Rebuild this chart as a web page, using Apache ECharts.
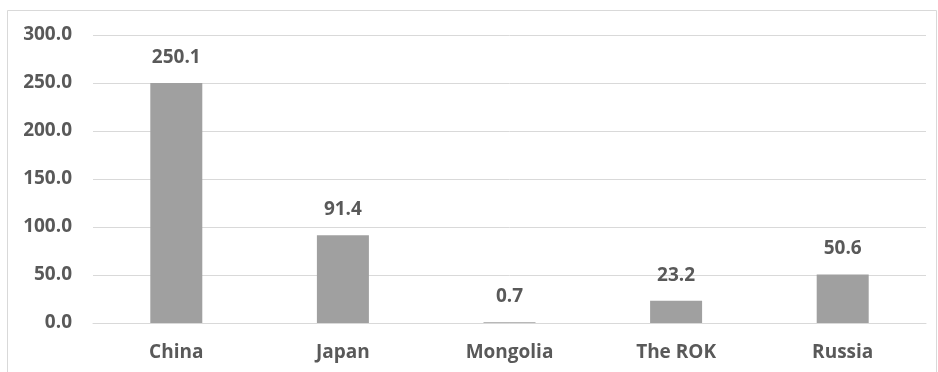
<!DOCTYPE html>
<html>
<head>
<meta charset="utf-8">
<script src="https://cdn.jsdelivr.net/npm/echarts@6/dist/echarts.min.js"></script>
<style>
  html, body { margin: 0; padding: 0; background: #ffffff; }
  #chart { width: 938px; height: 372px; }
</style>
</head>
<body>
<div id="chart"></div>
<script>
// Countries on the category axis
const categories = ['China', 'Japan', 'Mongolia', 'The ROK', 'Russia'];
// Bar values
const values = [250.1, 91.4, 0.7, 23.2, 50.6];
// Value axis range
const yMin = 0;
const yMax = 300;
const yStep = 50;

const textColor = '#595959';
const fontFamily = '"Liberation Sans Narrow", "Open Sans", "Noto Sans", sans-serif';
const fontSize = 19;
const fontWeight = 'bold';

const chart = echarts.init(document.getElementById('chart'), null, { renderer: 'canvas' });

chart.setOption({
  animation: false,
  backgroundColor: '#ffffff',
  graphic: [{
    type: 'rect',
    shape: { x: 7.5, y: 10.5, width: 929, height: 400 },
    style: { fill: 'none', stroke: '#d9d9d9', lineWidth: 1 },
    silent: true
  }],
  grid: { left: 93, right: 12, top: 35, bottom: 49, containLabel: false },
  xAxis: {
    type: 'category',
    data: categories,
    axisLine: { show: true, lineStyle: { color: '#d9d9d9', width: 1 } },
    axisTick: { show: false },
    axisLabel: {
      color: textColor, fontFamily: fontFamily, fontSize: fontSize, fontWeight: fontWeight,
      margin: 20
    }
  },
  yAxis: {
    type: 'value',
    min: yMin, max: yMax, interval: yStep,
    axisLine: { show: false },
    axisTick: { show: false },
    splitLine: { lineStyle: { color: '#d9d9d9', width: 1 } },
    axisLabel: {
      color: textColor, fontFamily: fontFamily, fontSize: fontSize, fontWeight: fontWeight,
      margin: 21,
      formatter: v => v.toFixed(1)
    }
  },
  series: [{
    type: 'bar',
    data: values,
    barWidth: 52,
    itemStyle: { color: '#a0a0a0' },
    label: {
      show: true, position: 'top', distance: 16,
      color: textColor, fontFamily: fontFamily, fontSize: fontSize, fontWeight: fontWeight,
      formatter: p => p.value.toFixed(1)
    }
  }]
});
</script>
</body>
</html>
